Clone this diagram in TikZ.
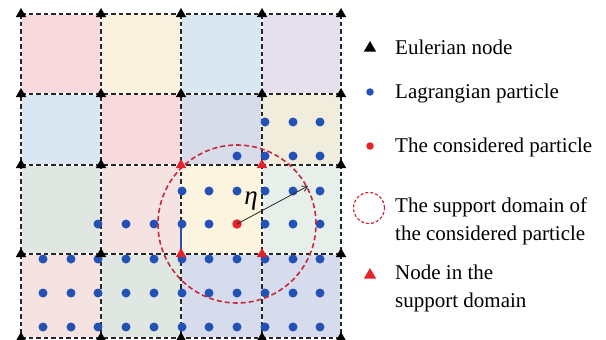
\documentclass[tikz,border=0pt]{standalone}
\usepackage{fontspec}
\setmainfont{Liberation Serif}
\usetikzlibrary{shapes.geometric,arrows.meta}
\definecolor{cpink}{HTML}{F8D9DE}
\definecolor{ccream}{HTML}{FAF2DF}
\definecolor{cblue}{HTML}{D8E7F2}
\definecolor{clav}{HTML}{E5DFEE}
\definecolor{cgblue}{HTML}{D7DCE8}
\definecolor{ccream2}{HTML}{F0EDDD}
\definecolor{cgreen}{HTML}{E0E6E1}
\definecolor{cpink2}{HTML}{F5E3E1}
\definecolor{cyell}{HTML}{FBF4DF}
\definecolor{cmint}{HTML}{E7EFEA}
\definecolor{cpblue}{HTML}{D7DCEC}
\definecolor{lagblue}{HTML}{2451B5}
\definecolor{consred}{HTML}{E8242B}
\definecolor{trired}{HTML}{E52229}
\definecolor{domred}{HTML}{C8283A}
\begin{document}
\begin{tikzpicture}[x=1pt,y=-1pt,
  gridline/.style={black!85, line width=1.1pt, dash pattern=on 4.5pt off 3pt},
  enode/.style={regular polygon, regular polygon sides=3, fill=black, inner sep=0pt, minimum size=12pt},
  rnode/.style={enode, fill=trired},
  lag/.style={circle, fill=lagblue, inner sep=0pt, minimum size=9pt},
  cons/.style={circle, fill=consred, inner sep=0pt, minimum size=9.5pt},
  suppdom/.style={circle, draw=domred, line width=1.6pt, dash pattern=on 5pt off 3pt, inner sep=0pt},
  legtext/.style={anchor=base west, inner sep=0pt, font=\fontsize{21}{24}\selectfont}]
\useasboundingbox (0,0) rectangle (606,340);
% grid coordinates
\foreach \x [count=\i] in {21,101,181,262,341}{
  \foreach \y [count=\j] in {14,94,165,254,338}{
    \coordinate (p-\i-\j) at (\x,\y);
  }
}
% cell colours (row by row)
\foreach \c [count=\k from 0] in {cpink,ccream,cblue,clav,
                                  cblue,cpink,cgblue,ccream2,
                                  cgreen,cpink2,cyell,cmint,
                                  cpink2,cgreen,cpblue,cpblue}{
  \pgfmathtruncatemacro\ci{mod(\k,4)+1}
  \pgfmathtruncatemacro\cj{div(\k,4)+1}
  \pgfmathtruncatemacro\cii{\ci+1}
  \pgfmathtruncatemacro\cjj{\cj+1}
  \fill[\c, rounded corners=2pt] ([shift={(0.8,0.8)}]p-\ci-\cj) rectangle ([shift={(-0.8,-0.8)}]p-\cii-\cjj);
}
% grid lines
\foreach \j in {1,...,5}{\draw[gridline] (p-1-\j) -- (p-5-\j);}
\foreach \i in {1,...,5}{\draw[gridline] (p-\i-1) -- (p-\i-5);}
% short blue segment
\coordinate (bs1) at (181,228);
\coordinate (bs2) at (181,250);
\draw[lagblue, line width=1.2pt] (bs1) -- (bs2);
% Lagrangian particles
\foreach \y/\xs [count=\r] in {122/{265,293,320},
                    156/{237,265,293,320},
                    191/{182,209,237,265,293,320},
                    224/{98,126,154,182,209,265,293,320},
                    259/{43,71,98,126,154,182,209,237,265,293,320},
                    293/{43,71,98,126,154,182,209,237,265,293,320},
                    327/{43,71,98,126,154,182,209,237,265,293,320}}{
  \foreach \x [count=\s] in \xs {
    \node[lag] (d-\r-\s) at (\x,\y) {};
  }
}
% considered particle, support domain, radius arrow
\node[cons] (cp) at (237,224) {};
\node[suppdom, minimum size=158pt] (dom) at (cp.center) {};
\coordinate (aend) at (308,186);
\draw[black!85, line width=0.8pt, -{Straight Barb[length=5pt,width=6pt]}] (cp.center) -- (aend);
\node[font=\fontsize{27}{27}\selectfont\itshape, inner sep=0pt] (eta) at (251,201) {η};
% Eulerian nodes
\foreach \i in {1,...,5}{
  \foreach \j in {1,...,5}{
    \pgfmathtruncatemacro\isred{(\i>2)&&(\i<5)&&(\j>2)&&(\j<5)}
    \ifnum\isred=1
      \node[rnode] (t-\i-\j) at (p-\i-\j) {};
    \else
      \node[enode] (t-\i-\j) at (p-\i-\j) {};
    \fi
  }
}
% legend
\node[enode, minimum size=14pt] (lg1) at (370,48) {};
\node[legtext] (lt1) at (395,54) {Eulerian node};
\node[lag, minimum size=7.5pt] (lg2) at (370,92) {};
\node[legtext] (lt2) at (395,98) {Lagrangian particle};
\node[cons, minimum size=7.5pt] (lg3) at (370,146) {};
\node[legtext] (lt3) at (395,152) {The considered particle};
\node[suppdom, line width=1.2pt, dash pattern=on 3pt off 2pt, minimum size=31pt] (lg4) at (369,208) {};
\node[legtext] (lt4a) at (395,212) {The support domain of};
\node[legtext] (lt4b) at (395,240) {the considered particle};
\node[rnode, minimum size=14pt] (lg5) at (370,275) {};
\node[legtext] (lt5a) at (395,279) {Node in the};
\node[legtext] (lt5b) at (395,307) {support domain};
\end{tikzpicture}
\end{document}
